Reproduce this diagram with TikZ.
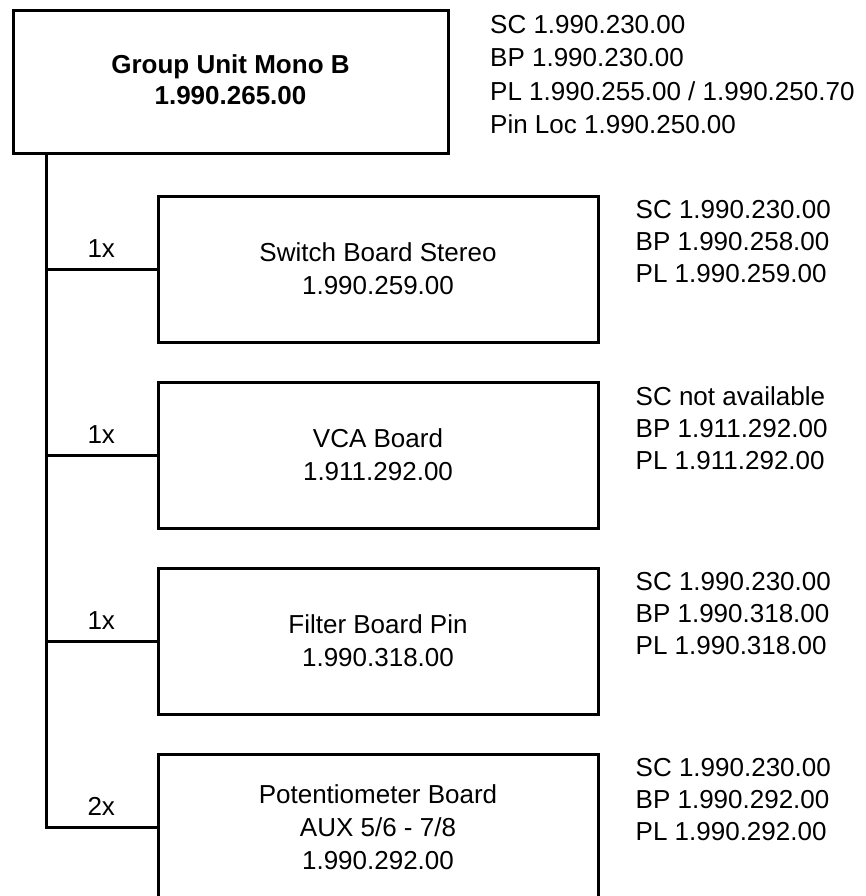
\documentclass[tikz,border=0pt]{standalone}
\usepackage{fontspec}
\setmainfont{Liberation Sans}
\usetikzlibrary{positioning}

\begin{document}
\begin{tikzpicture}[x=1pt, y=1pt,
  link/.style={line width=3pt},
  unit/.style={draw, line width=3pt, align=center, inner sep=0pt,
               font=\bfseries\fontsize{26}{31}\selectfont,
               minimum width=435pt, minimum height=143pt},
  board/.style={draw, line width=3pt, align=center, inner sep=0pt,
                font=\fontsize{26}{33}\selectfont,
                minimum width=440pt, minimum height=146pt},
  parts/.style={anchor=north west, align=left, inner sep=0pt,
                font=\fontsize{26}{32}\selectfont},
  qty/.style={above=10pt, inner sep=0pt, font=\fontsize{26}{30}\selectfont}]
  \useasboundingbox (0,0) rectangle (866,-896);
  \node[unit, anchor=north west] (gu) at (11.5,-9.5)
    {\raisebox{-5pt}{\begin{tabular}{@{}c@{}}Group Unit Mono B\\ 1.990.265.00\end{tabular}}};
  \node[parts, font=\fontsize{26}{33.5}\selectfont] (gup) at (490,-15) {SC 1.990.230.00\\ BP 1.990.230.00\\
    PL 1.990.255.00 / 1.990.250.70\\ Pin Loc 1.990.250.00};
  \node[board, anchor=north west] (sw) at (156.5,-194.5) {Switch Board Stereo\\ 1.990.259.00};
  \node[board, below=37pt of sw] (vca) {VCA Board\\ 1.911.292.00};
  \node[board, below=37pt of vca] (fb) {Filter Board Pin\\ 1.990.318.00};
  \node[board, below=37pt of fb] (pot) {Potentiometer Board\\ AUX 5/6 - 7/8\\ 1.990.292.00};
  \node[parts] (swp) at ([xshift=36pt, yshift=-6pt]sw.north east) {SC 1.990.230.00\\ BP 1.990.258.00\\ PL 1.990.259.00};
  \node[parts] (vcap) at ([xshift=36pt, yshift=-6pt]vca.north east) {SC not available\\ BP 1.911.292.00\\ PL 1.911.292.00};
  \node[parts] (fbp) at ([xshift=36pt, yshift=-6pt]fb.north east) {SC 1.990.230.00\\ BP 1.990.318.00\\ PL 1.990.318.00};
  \node[parts] (potp) at ([xshift=36pt, yshift=-6pt]pot.north east) {SC 1.990.230.00\\ BP 1.990.292.00\\ PL 1.990.292.00};
  % trunk and branches
  \coordinate (trunk) at (46,0 |- gu.south);
  \draw[link] (trunk) |- (pot.west) node[qty, pos=0.75] {2x};
  \draw[link] (trunk |- sw.west) -- (sw.west) node[qty, midway] {1x};
  \draw[link] (trunk |- vca.west) -- (vca.west) node[qty, midway] {1x};
  \draw[link] (trunk |- fb.west) -- (fb.west) node[qty, midway] {1x};
\end{tikzpicture}
\end{document}
